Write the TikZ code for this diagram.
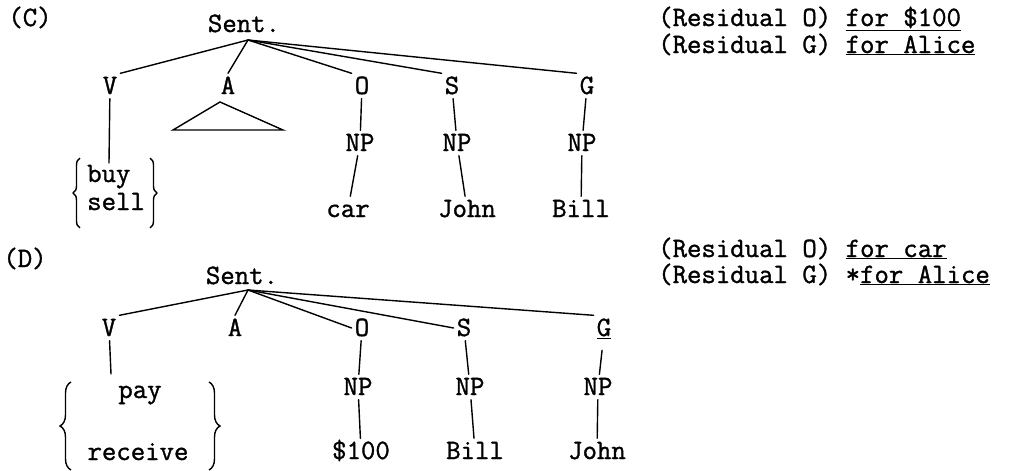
\documentclass[tikz,border=0pt]{standalone}
\usepackage{fontspec}
\newfontfamily\tw[FakeBold=1.2]{Latin Modern Mono}
\usetikzlibrary{decorations.pathreplacing}
\begin{document}
\begin{tikzpicture}[x=1pt,y=1pt,
  tn/.style={font=\fontsize{28}{32}\selectfont\tw, inner sep=3pt, anchor=base, text height=17.5pt, text depth=1.5pt},
  tx/.style={font=\fontsize{28}{32}\selectfont\tw, inner sep=0pt, anchor=base west},
  wd/.style={font=\fontsize{28}{32}\selectfont\tw, inner sep=2pt, anchor=base},
  ln/.style={line width=1.4pt, line cap=round},
  brc/.style={line width=1.4pt, decorate, decoration={brace, amplitude=#1}}]
\useasboundingbox (0,0) rectangle (1018,-471);

% ---------------- (C) ----------------
\node[tn] (lblC) at (30,-26) {(C)};
\node[tn] (sentC) at (244,-32) {Sent.};
\coordinate (apC) at (248,-40);
\node[tn] (VC) at (110,-94) {V};
\node[tn] (AC) at (228,-94) {A};
\node[tn] (OC) at (362,-94) {O};
\node[tn] (SC) at (452,-94) {S};
\node[tn] (GC) at (587,-94) {G};
\draw[ln] (apC) -- (VC.north east);
\draw[ln] (apC) -- (AC.north);
\draw[ln] (apC) -- (OC.north west);
\draw[ln] (apC) -- (SC.north west);
\draw[ln] (apC) -- (GC.north west);
\draw[ln] (220,-102) -- (173,-130) -- (283,-130) -- cycle;

\node[tn] (NPOC) at (360,-151) {NP};
\node[tn] (NPSC) at (457,-151) {NP};
\node[tn] (NPGC) at (582,-151) {NP};
\node[tn] (carC) at (348,-217) {car};
\node[tn] (JohnC) at (467,-217) {John};
\node[tn] (BillC) at (581,-217) {Bill};
\draw[ln] (OC) -- (NPOC);
\draw[ln] (SC) -- (NPSC);
\draw[ln] (GC) -- (NPGC);
\draw[ln] (NPOC) -- (carC);
\draw[ln] (NPSC) -- (JohnC);
\draw[ln] (NPGC) -- (BillC);

\coordinate (vbC) at (109,-163);
\draw[ln] (VC) -- (vbC);
\node[wd, anchor=base west] (buyC) at (85,-182) {buy};
\node[wd, anchor=base west] (sellC) at (85,-210) {sell};
\draw[brc=7pt] (80,-228) -- (80,-158);
\draw[brc=7pt] (150,-158) -- (150,-228);

\node[tx] (rC1) at (658,-26) {(Residual O) \underline{for \$100}};
\node[tx] (rC2) at (658,-53) {(Residual G) \underline{for Alice}};

% ---------------- (D) ----------------
\node[tn] (lblD) at (25,-267) {(D)};
\node[tn] (sentD) at (242,-284) {Sent.};
\coordinate (apD) at (248,-290);
\node[tn] (VD) at (109,-336) {V};
\node[tn] (AD) at (235,-336) {A};
\node[tn] (OD) at (362,-336) {O};
\node[tn] (SD) at (464,-336) {S};
\node[tn, text depth=11pt] (GD) at (604,-336) {\underline{G}};
\draw[ln] (apD) -- (VD.north east);
\draw[ln] (apD) -- (AD.north);
\draw[ln] (apD) -- (OD.west);
\draw[ln] (apD) -- (SD.west);
\draw[ln] (apD) -- (GD.north west);

\node[tn] (NPOD) at (358,-395) {NP};
\node[tn] (NPSD) at (470,-395) {NP};
\node[tn] (NPGD) at (598,-395) {NP};
\node[tn] (dolD) at (361,-459) {\$100};
\node[tn] (BillD) at (475,-459) {Bill};
\node[tn] (JohnD) at (597,-459) {John};
\draw[ln] (OD) -- (NPOD);
\draw[ln] (SD) -- (NPSD);
\draw[ln] (GD) -- (NPGD);
\draw[ln] (NPOD) -- (dolD);
\draw[ln] (NPSD) -- (BillD);
\draw[ln] (NPGD) -- (JohnD);

\coordinate (vbD) at (111,-374);
\draw[ln] (VD) -- (vbD);
\node[wd] (payD) at (140,-398) {pay};
\node[wd] (recD) at (138,-460) {receive};
\draw[brc=11pt] (71,-470) -- (71,-382);
\draw[brc=11pt] (209,-382) -- (209,-470);

\node[tx] (rD1) at (658,-257) {(Residual O) \underline{for car}};
\node[tx] (rD2) at (658,-283) {(Residual G) *\underline{for Alice}};
\end{tikzpicture}
\end{document}
